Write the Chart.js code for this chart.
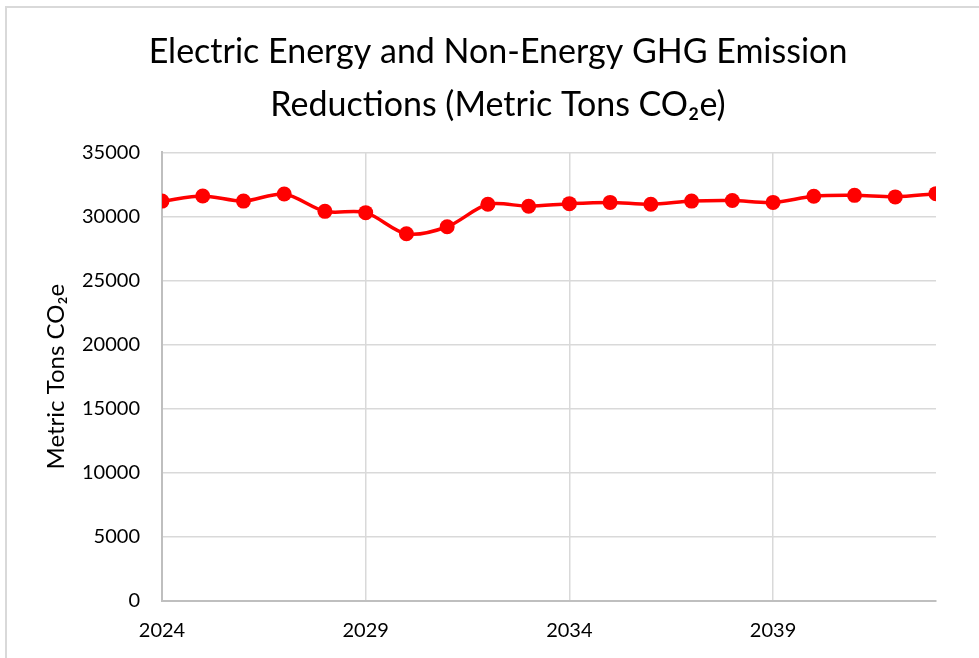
<!DOCTYPE html>
<html>
<head>
<meta charset="utf-8">
<script src="https://cdn.jsdelivr.net/npm/chart.js@4.4.1/dist/chart.umd.min.js"></script>
<style>
  html, body { margin: 0; padding: 0; background: #fff; }
  #wrap { position: relative; width: 979px; height: 658px; }
  canvas { display: block; }
</style>
</head>
<body>
<div id="wrap"><canvas id="c" width="979" height="658"></canvas></div>
<script>
const years = [2024, 2025, 2026, 2027, 2028, 2029, 2030, 2031, 2032, 2033, 2034, 2035, 2036, 2037, 2038, 2039, 2040, 2041, 2042, 2043];
const reductions = [31200, 31600, 31200, 31750, 30400, 30300, 28650, 29200, 30950, 30800, 31000, 31100, 30950, 31200, 31250, 31100, 31580, 31650, 31530, 31780];
const xTickLabels = [2024, 2029, 2034, 2039];
const yTickValues = [0, 5000, 10000, 15000, 20000, 25000, 30000, 35000];
const titleLines = ['Electric Energy and Non-Energy GHG Emission', 'Reductions (Metric Tons CO\u2082e)'];
const yAxisTitle = 'Metric Tons CO\u2082e';

const FONT = 'Lato, "Open Sans", "Noto Sans", sans-serif';

const borderPlugin = {
  id: 'outerBorder',
  afterDraw(chart) {
    const ctx = chart.ctx;
    ctx.save();
    ctx.strokeStyle = '#d9d9d9';
    ctx.lineWidth = 2;
    ctx.strokeRect(6, 7, 1000, 700);
    ctx.restore();
  }
};

new Chart(document.getElementById('c'), {
  type: 'line',
  data: {
    datasets: [{
      data: years.map((y, i) => ({ x: y, y: reductions[i] })),
      borderColor: '#ff0000',
      backgroundColor: '#ff0000',
      borderWidth: 3.5,
      pointRadius: 7.5,
      pointBackgroundColor: '#ff0000',
      pointBorderColor: '#ff0000',
      pointBorderWidth: 0,
      tension: 0.3,
      fill: false
    }]
  },
  options: {
    responsive: false,
    animation: false,
    devicePixelRatio: 1,
    layout: { padding: { left: 60, right: 43, top: 0, bottom: 0 } },
    plugins: {
      legend: { display: false },
      tooltip: { enabled: false },
      title: {
        display: true,
        text: titleLines,
        color: '#000',
        font: { family: FONT, size: 34, weight: 'normal', lineHeight: 1.55 },
        padding: { top: 26, bottom: 21 }
      }
    },
    scales: {
      x: {
        type: 'linear',
        min: 2024,
        max: 2043,
        afterBuildTicks(scale) {
          scale.ticks = xTickLabels.map(v => ({ value: v }));
        },
        afterFit(scale) { scale.height = 57; },
        ticks: {
          color: '#000',
          font: { family: FONT, size: 20 },
          padding: 18,
          maxRotation: 0,
          callback: v => String(v)
        },
        grid: { color: '#d9d9d9', lineWidth: 1.5, drawTicks: false },
        border: { color: '#bfbfbf', width: 2 }
      },
      y: {
        min: 0,
        max: 35000,
        afterBuildTicks(scale) {
          scale.ticks = yTickValues.map(v => ({ value: v }));
        },
        afterFit(scale) { scale.width = 102; },
        ticks: {
          color: '#000',
          font: { family: FONT, size: 20 },
          padding: 22,
          callback: v => String(v)
        },
        grid: { color: '#d9d9d9', lineWidth: 1.5, drawTicks: false },
        border: { color: '#bfbfbf', width: 2 },
        title: {
          display: true,
          text: yAxisTitle,
          color: '#000',
          font: { family: FONT, size: 24, lineHeight: 1.2 },
          padding: { top: -18, bottom: 0 }
        }
      }
    }
  },
  plugins: [borderPlugin]
});
</script>
</body>
</html>
